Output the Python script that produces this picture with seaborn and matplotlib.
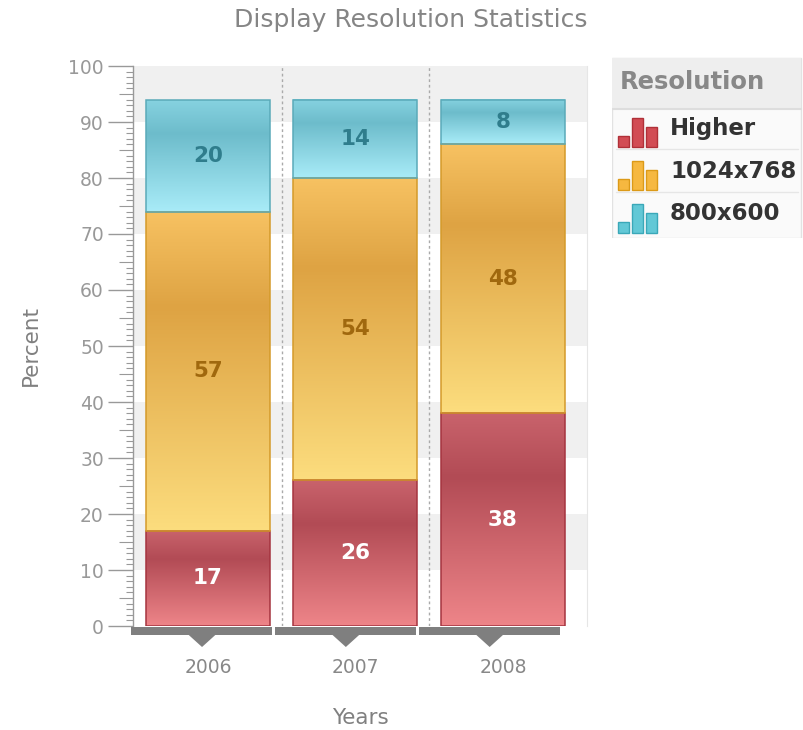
import numpy as np
import pandas as pd
import matplotlib as mpl
mpl.use('Agg')
import matplotlib.pyplot as plt
import matplotlib.colors as mcolors
from matplotlib.patches import Rectangle, Polygon
import seaborn as sns

years = ['2006', '2007', '2008']
higher = [17, 26, 38]
res_1024 = [57, 54, 48]
res_800 = [20, 14, 8]
series_names = ['Higher', '1024x768', '800x600']

# gradient stops for the glassy bars: top, dark band, bottom
grad_colors = {
    'Higher': ['#c9636c', '#b24b55', '#ee8589'],
    '1024x768': ['#f7c262', '#dea343', '#fcdd7e'],
    '800x600': ['#86d2e0', '#6dbccb', '#a9ecf8'],
}
edge_colors = {'Higher': '#a5343f', '1024x768': '#d49a2a', '800x600': '#5aaab9'}
label_colors = {'Higher': '#ffffff', '1024x768': '#a0680e', '800x600': '#2f7d8c'}
icon_colors = {'Higher': ('#d24c54', '#b03038'), '1024x768': ('#f6b840', '#dc9a18'),
               '800x600': ('#62c8d6', '#3aa8b8')}

df = pd.DataFrame({'Year': years, 'Higher': higher,
                   '1024x768': res_1024, '800x600': res_800})

sns.set_style('white')
plt.rcParams['font.family'] = ['DejaVu Sans']

fig = plt.figure(figsize=(8.04, 7.30), dpi=100)
ax = fig.add_axes([133 / 804, 104 / 730, 454 / 804, 560 / 730])

# alternating background bands
for lo in range(10, 100, 20):
    ax.axhspan(lo, lo + 10, color='#f0f0f0', zorder=0, lw=0)
for xs in [0.5, 1.5]:
    ax.axvline(xs, color='#aaaaaa', ls=(0, (2, 2)), lw=1, zorder=1)

grad = np.linspace(0, 1, 256).reshape(-1, 1)
bottoms = np.zeros(len(years))
for name in series_names:
    vals = df[name].values
    sns.barplot(data=df, x='Year', y=name, order=years, bottom=bottoms,
                width=0.84, color=grad_colors[name][1], edgecolor=edge_colors[name],
                linewidth=1.1, errorbar=None, ax=ax)
    cont = ax.containers[-1]
    cmap = mcolors.LinearSegmentedColormap.from_list(
        name, list(zip([0, 0.3, 1], grad_colors[name])))
    for p in cont.patches:
        x0, y0, w, h = p.get_x(), p.get_y(), p.get_width(), p.get_height()
        ax.imshow(grad, extent=[x0, x0 + w, y0, y0 + h], cmap=cmap,
                  aspect='auto', zorder=2, interpolation='bilinear')
        p.set_facecolor('none')
        p.set_zorder(3)
    ax.bar_label(cont, labels=[str(v) for v in vals], label_type='center',
                 color=label_colors[name], fontweight='bold', fontsize=15.5, zorder=4)
    bottoms = bottoms + vals

ax.set_xlim(-0.508, 2.57)
ax.set_ylim(0, 100)

ax.set_yticks(range(0, 101, 10))
ax.yaxis.set_minor_locator(mpl.ticker.MultipleLocator(1))
ax.tick_params(axis='y', which='major', left=True, length=18, width=1, color='#999999',
               labelcolor='#999999', labelsize=13.5, pad=3)
ax.tick_params(axis='y', which='minor', left=True, length=5, width=0.8, color='#999999')
ax.tick_params(axis='x', length=0, pad=23, labelsize=13.5, labelcolor='#888888')
locs = ax.yaxis.get_minorticklocs()
for t, v in zip(ax.yaxis.get_minor_ticks(len(locs)), locs):
    if round(v) % 5 == 0:
        t.tick1line.set_markersize(10)

for s in ['top', 'bottom']:
    ax.spines[s].set_visible(False)
ax.spines['left'].set_color('#999999')
ax.spines['left'].set_linewidth(1)
ax.spines['right'].set_color('#e6e6e6')

ax.set_xlabel('Years', fontsize=15.5, color='#808080', labelpad=22)
ax.set_ylabel('Percent', fontsize=15.5, color='#808080', labelpad=20)

# grey base strip with pointers under each category
trans = mpl.transforms.blended_transform_factory(ax.transData, ax.transAxes)
for i in range(len(years)):
    x0, x1 = i * 0.975 - 0.522, i * 0.975 + 0.434
    xc = i * 0.975 - 0.04
    ax.add_patch(Rectangle((x0, -9 / 560), x1 - x0, 8 / 560, transform=trans,
                           color='#7f7f7f', clip_on=False, zorder=5, lw=0))
    ax.add_patch(Polygon([(xc - 0.09, -9 / 560), (xc + 0.09, -9 / 560), (xc, -21 / 560)],
                         transform=trans, color='#7f7f7f', clip_on=False, zorder=5, lw=0))

fig.text(0.511, 0.972, 'Display Resolution Statistics', ha='center', va='center',
         fontsize=18, color='#858585')

# legend panel
lx = fig.add_axes([612 / 804, 492 / 730, 192 / 804, 181 / 730])
lx.set_xlim(0, 192)
lx.set_ylim(181, 0)
lx.axis('off')
lx.add_patch(Rectangle((0.5, 0.5), 189, 180, facecolor='#fafafa', edgecolor='#e2e2e2', lw=1))
lx.add_patch(Rectangle((0.5, 0.5), 189, 51, facecolor='#eeeeee', edgecolor='none'))
lx.plot([0.5, 189.5], [52, 52], color='#dddddd', lw=1.5)
lx.text(8, 25, 'Resolution', fontsize=17.5, fontweight='bold', color='#888888', va='center')
for k, name in enumerate(series_names):
    cy = 71 + 43 * k
    if k > 0:
        lx.plot([4, 186], [cy - 22, cy - 22], color='#e6e6e6', lw=1)
    fc, ec = icon_colors[name]
    for bx, bh in zip([6, 20, 34], [11, 29, 20]):
        lx.add_patch(Rectangle((bx, cy + 19 - bh), 11, bh, facecolor=fc, edgecolor=ec, lw=1))
    lx.text(58, cy, name, fontsize=16.5, fontweight='bold', color='#333333', va='center')

fig.savefig('out.png', dpi=100, facecolor='white')
